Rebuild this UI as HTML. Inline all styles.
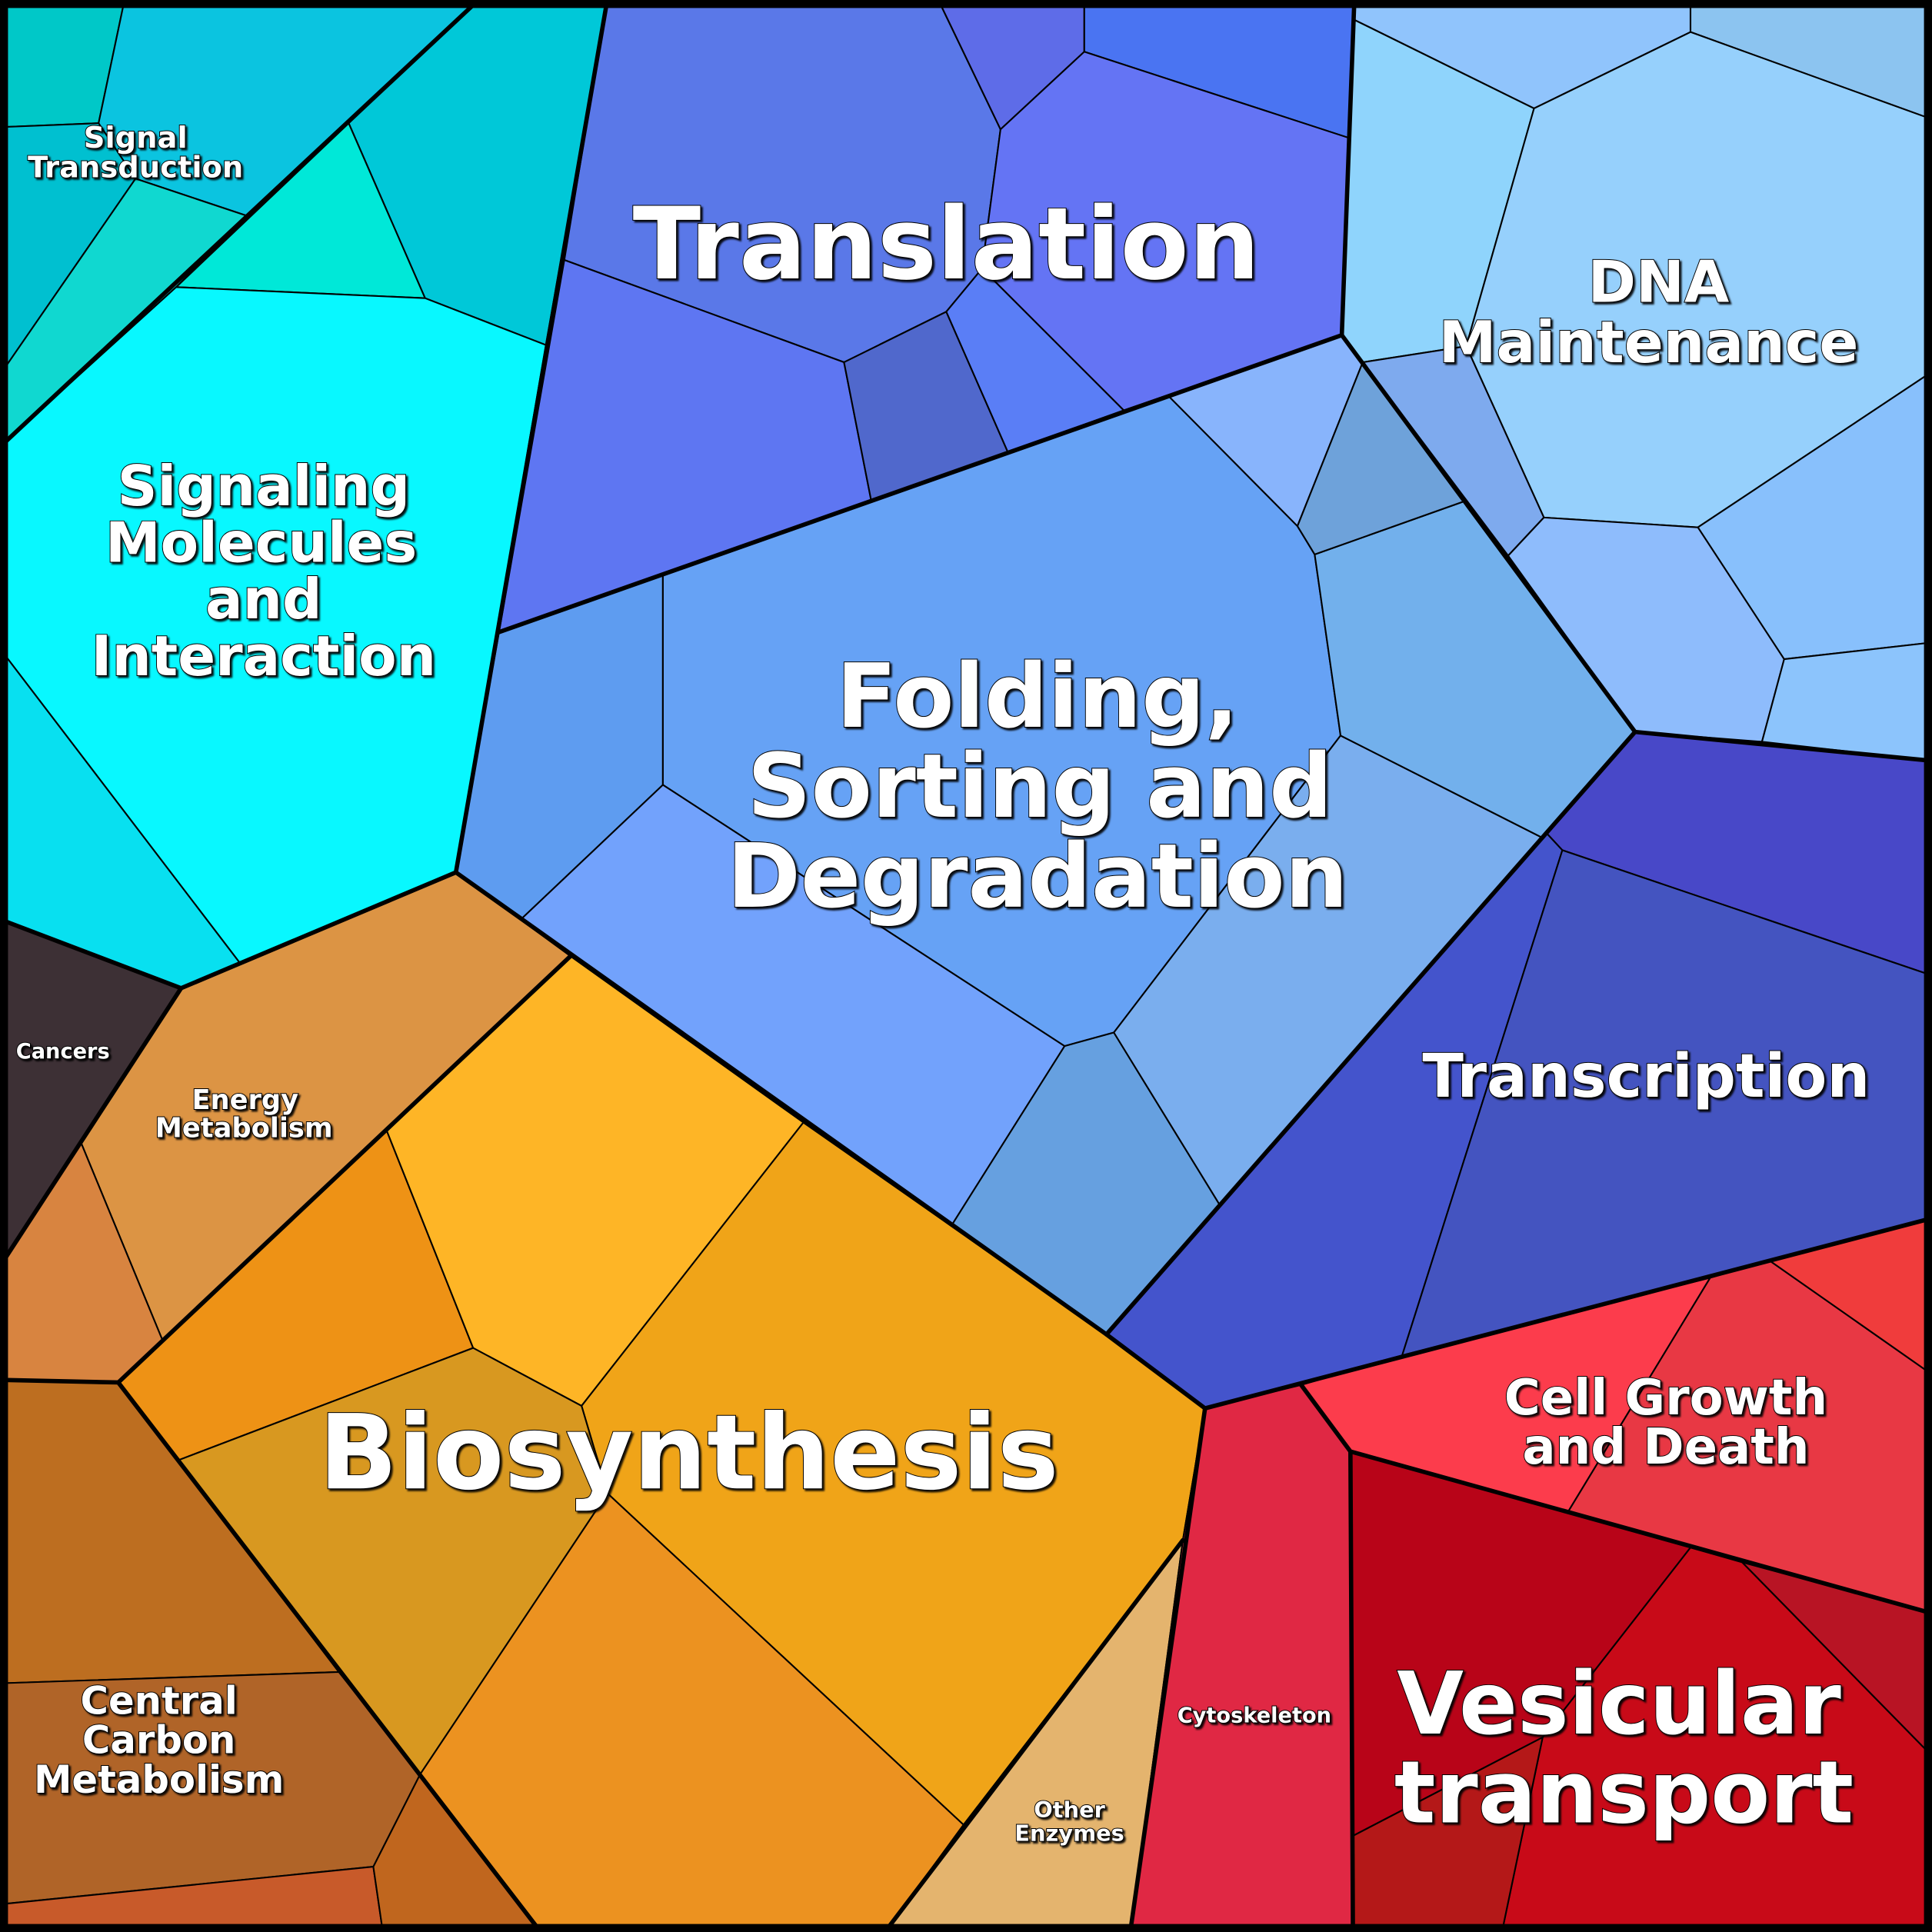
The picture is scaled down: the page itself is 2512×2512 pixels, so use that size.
<!DOCTYPE html>
<html><head><meta charset="utf-8"><style>
html,body{margin:0;padding:0;background:#000}
svg{display:block}
text{font-family:"DejaVu Sans","Liberation Sans",sans-serif;font-weight:bold;fill:#fff;text-anchor:middle;paint-order:stroke;stroke:#000;stroke-width:1.2}
.c polygon{stroke:#000;stroke-width:1.3;stroke-linejoin:round}
.t{fill:none;stroke:#000;stroke-width:3.5;stroke-linejoin:round;stroke-linecap:round}
</style></head><body>
<svg width="2512" height="2512" viewBox="0 0 1568 1568" xmlns="http://www.w3.org/2000/svg">
<defs><filter id="sh"><feDropShadow dx="1.5" dy="1.5" stdDeviation="0.6" flood-color="#000" flood-opacity="0.9"/></filter></defs>
<rect width="1568" height="1568" fill="#000"/>
<g class="c">
<polygon fill="#00c8c8" points="5,5 100,5 80,100 5,103"/>
<polygon fill="#0bc4e0" points="100,5 383,5 200,175 110,145 80,100"/>
<polygon fill="#00c8d8" points="383,5 492,5 443,280 345,242 283,100"/>
<polygon fill="#00e8d8" points="283,100 345,242 143,233"/>
<polygon fill="#00c0d0" points="5,103 80,100 110,145 5,297"/>
<polygon fill="#10d8d0" points="110,145 200,175 143,233 5,358 5,297"/>
<polygon fill="#08f8ff" points="5,358 143,233 345,242 443,280 370,708 195,782 5,533"/>
<polygon fill="#08e0f0" points="5,533 195,782 147,802 5,748"/>
<polygon fill="#3d3035" points="5,748 147,802 5,1020"/>
<polygon fill="#dc9444" points="147,802 370,708 463,776 314,918 132,1088 66,928"/>
<polygon fill="#d88440" points="5,1020 66,928 132,1088 96,1122 5,1120"/>
<polygon fill="#bd6e20" points="5,1120 96,1122 275,1357 5,1366"/>
<polygon fill="#b06428" points="5,1366 275,1357 341,1440 303,1515 5,1545"/>
<polygon fill="#c85a2a" points="5,1545 303,1515 310,1563 5,1563"/>
<polygon fill="#c0661e" points="303,1515 341,1440 435,1563 310,1563"/>
<polygon fill="#ee9215" points="96,1122 314,918 384,1094 145,1185"/>
<polygon fill="#feb526" points="314,918 463,776 652,911 472,1141 384,1094"/>
<polygon fill="#f0a418" points="652,911 898,1083 978,1143 960,1250 782,1481 493,1212 472,1141"/>
<polygon fill="#d89820" points="145,1185 384,1094 472,1141 493,1212 341,1440"/>
<polygon fill="#ec9220" points="341,1440 493,1212 782,1481 722,1563 435,1563"/>
<polygon fill="#e4b46e" points="722,1563 782,1481 960,1250 918,1563"/>
<polygon fill="#5e9cf0" points="405,513 538,467 538,637 424,745 370,708"/>
<polygon fill="#66a2f5" points="538,467 707,406 818,367 912,333 948,321 1053,427 1067,450 1088,597 904,838 864,849 538,637"/>
<polygon fill="#72a2fc" points="424,745 538,637 864,849 772,995 463,776"/>
<polygon fill="#66a0e0" points="772,995 864,849 904,838 990,978 898,1083"/>
<polygon fill="#7aaeee" points="904,838 1088,597 1252,680 990,978"/>
<polygon fill="#72b0ec" points="1067,450 1188,407 1327,594 1252,680 1088,597"/>
<polygon fill="#88b4fc" points="948,321 1089,272 1106,294 1053,427"/>
<polygon fill="#6ea2da" points="1053,427 1106,294 1188,407 1067,450"/>
<polygon fill="#5a78e8" points="492,5 764,5 812,105 797,218 768,253 685,294 458,211"/>
<polygon fill="#5e6ce8" points="764,5 880,5 880,42 812,105"/>
<polygon fill="#4a74f2" points="880,5 1099,5 1095,112 880,42"/>
<polygon fill="#6474f4" points="812,105 880,42 1095,112 1089,272 912,333 797,218"/>
<polygon fill="#5e76f2" points="458,211 685,294 707,406 405,513"/>
<polygon fill="#5068cc" points="685,294 768,253 818,367 707,406"/>
<polygon fill="#5a7ef6" points="768,253 797,218 912,333 818,367"/>
<polygon fill="#90c4fc" points="1099,5 1372,5 1372,26 1245,88 1099,16"/>
<polygon fill="#8cc4f0" points="1372,5 1563,5 1563,95 1372,26"/>
<polygon fill="#8fd4fc" points="1099,16 1245,88 1190,281 1106,294 1089,272"/>
<polygon fill="#96d0fc" points="1245,88 1372,26 1563,95 1563,305 1378,428 1253,420 1190,281"/>
<polygon fill="#7eaaee" points="1106,294 1190,281 1253,420 1224,451"/>
<polygon fill="#88c0fc" points="1378,428 1563,305 1563,522 1448,535"/>
<polygon fill="#8ebcfc" points="1224,451 1253,420 1378,428 1448,535 1430,602 1327,594"/>
<polygon fill="#8cc4fc" points="1448,535 1563,522 1563,617 1430,602"/>
<polygon fill="#4848c8" points="1327,594 1563,617 1563,790 1268,690 1255,676"/>
<polygon fill="#4454cc" points="1252,680 1255,676 1268,690 1138,1100 978,1143 898,1083"/>
<polygon fill="#4454c0" points="1268,690 1563,790 1563,990 1138,1100"/>
<polygon fill="#fc3c4c" points="1056,1124 1138,1100 1388,1037 1272,1228 1096,1178"/>
<polygon fill="#e83844" points="1388,1037 1436,1023 1563,1112 1563,1308 1414,1268 1372,1256 1272,1228"/>
<polygon fill="#f03c3c" points="1436,1023 1563,990 1563,1112"/>
<polygon fill="#e02844" points="978,1143 1056,1124 1096,1178 1098,1563 918,1563 960,1250"/>
<polygon fill="#b80418" points="1096,1178 1372,1256 1252,1410 1098,1490"/>
<polygon fill="#c80a18" points="1372,1256 1414,1268 1563,1420 1563,1563 1220,1563 1252,1410"/>
<polygon fill="#b81424" points="1414,1268 1563,1308 1563,1420"/>
<polygon fill="#b41818" points="1098,1490 1252,1410 1220,1563 1098,1563"/>
</g>
<g class="t">
<polyline points="5,358 383,5"/>
<polyline points="492,5 370,708 147,802 5,748"/>
<polyline points="147,802 5,1020"/>
<polyline points="370,708 898,1083 978,1143"/>
<polyline points="405,513 1089,272 1099,5"/>
<polyline points="1089,272 1327,594 898,1083"/>
<polyline points="1327,594 1563,617"/>
<polyline points="978,1143 1563,990"/>
<polyline points="978,1143 918,1563"/>
<polyline points="463,776 96,1122 435,1563"/>
<polyline points="5,1120 96,1122"/>
<polyline points="960,1250 722,1563"/>
<polyline points="1056,1124 1096,1178 1563,1308"/>
<polyline points="1096,1178 1098,1563"/>
</g>
<rect x="3" y="3" width="1562" height="1562" fill="none" stroke="#000" stroke-width="7"/>
<g filter="url(#sh)">
<text x="110" y="120" font-size="24">Signal</text>
<text x="110" y="144" font-size="24">Transduction</text>
<text x="214" y="410" font-size="45">Signaling</text>
<text x="212" y="456" font-size="45">Molecules</text>
<text x="214" y="502" font-size="45">and</text>
<text x="214" y="548" font-size="45">Interaction</text>
<text x="768" y="226" font-size="81">Translation</text>
<text x="1346" y="245" font-size="47">DNA</text>
<text x="1338" y="294" font-size="47">Maintenance</text>
<text x="842" y="590" font-size="72">Folding,</text>
<text x="844" y="663" font-size="72">Sorting and</text>
<text x="842" y="736" font-size="72">Degradation</text>
<text x="1336" y="890" font-size="49">Transcription</text>
<text x="51" y="859" font-size="17">Cancers</text>
<text x="199" y="900" font-size="22">Energy</text>
<text x="198" y="923" font-size="22">Metabolism</text>
<text x="559" y="1208" font-size="84">Biosynthesis</text>
<text x="129" y="1391" font-size="31">Central</text>
<text x="129" y="1423" font-size="31">Carbon</text>
<text x="129" y="1455" font-size="31">Metabolism</text>
<text x="868" y="1475" font-size="18">Other</text>
<text x="868" y="1494" font-size="18">Enzymes</text>
<text x="1018" y="1398" font-size="17">Cytoskeleton</text>
<text x="1352" y="1148" font-size="40">Cell Growth</text>
<text x="1352" y="1188" font-size="40">and Death</text>
<text x="1314" y="1407" font-size="70">Vesicular</text>
<text x="1318" y="1479" font-size="70">transport</text>
</g>
</svg>
</body></html>
